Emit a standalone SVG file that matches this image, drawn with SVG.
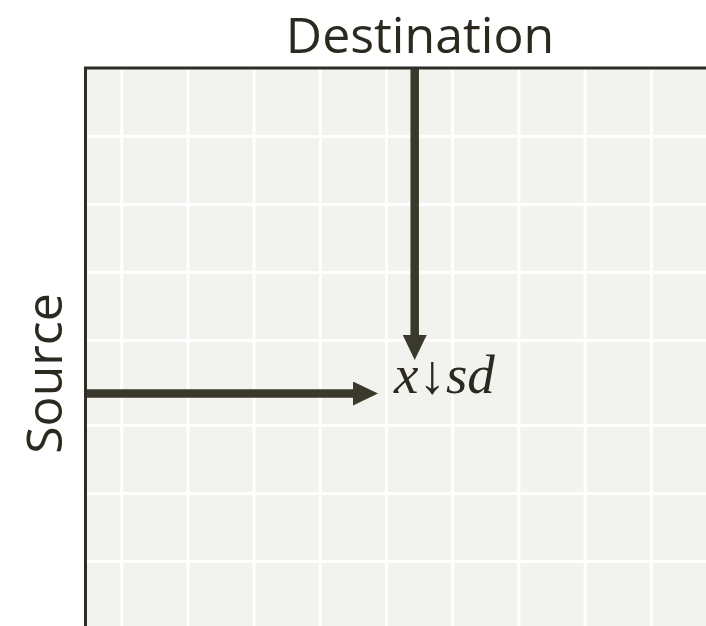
<svg xmlns="http://www.w3.org/2000/svg" width="706" height="626" viewBox="0 0 706 626">
  <style>
    .label { font-family: "Open Sans", "Noto Sans", "DejaVu Sans", sans-serif; font-size: 50px; fill: #2c2920; }
    .cell { font-family: "Liberation Serif", "DejaVu Serif", serif; font-style: italic; font-size: 55px; fill: #2c2920; }
    .grid line { stroke: #ffffff; stroke-width: 3; }
    .axis { stroke: #2f2c25; stroke-width: 3; fill: none; }
    .arrow { stroke: #3b382c; stroke-width: 8.5; fill: none; marker-end: url(#head); }
  </style>
  <defs>
    <marker id="head" markerUnits="userSpaceOnUse" markerWidth="25" markerHeight="24" refX="5" refY="12" orient="auto">
      <path d="M0,0 L25,12 L0,24 Z" fill="#3b382c"/>
    </marker>
  </defs>

  <rect width="706" height="626" fill="#ffffff"/>

  <!-- matrix area -->
  <g id="matrix">
    <rect x="85" y="68" width="621" height="558" fill="#f2f2ee"/>
    <g class="grid">
      <line x1="121.7" y1="68" x2="121.7" y2="626"/>
      <line x1="187.9" y1="68" x2="187.9" y2="626"/>
      <line x1="254.1" y1="68" x2="254.1" y2="626"/>
      <line x1="320.3" y1="68" x2="320.3" y2="626"/>
      <line x1="386.5" y1="68" x2="386.5" y2="626"/>
      <line x1="452.7" y1="68" x2="452.7" y2="626"/>
      <line x1="518.9" y1="68" x2="518.9" y2="626"/>
      <line x1="585.1" y1="68" x2="585.1" y2="626"/>
      <line x1="651.3" y1="68" x2="651.3" y2="626"/>
      <line x1="85" y1="136.5" x2="706" y2="136.5"/>
      <line x1="85" y1="204.5" x2="706" y2="204.5"/>
      <line x1="85" y1="272.5" x2="706" y2="272.5"/>
      <line x1="85" y1="340.5" x2="706" y2="340.5"/>
      <line x1="85" y1="425.5" x2="706" y2="425.5"/>
      <line x1="85" y1="493.5" x2="706" y2="493.5"/>
      <line x1="85" y1="561.5" x2="706" y2="561.5"/>
    </g>
    <path class="axis" d="M85.5,626 L85.5,68 L706,68"/>
  </g>

  <g id="destination-label">
    <text class="label" x="420" y="53" text-anchor="middle">Destination</text>
  </g>

  <g id="source-label">
    <text class="label" transform="translate(62,373.5) rotate(-90)" text-anchor="middle">Source</text>
  </g>

  <g id="cell-label">
    <text class="cell" x="394" y="393">x↓sd</text>
  </g>

  <g id="connectors">
    <line class="arrow" x1="414.7" y1="69" x2="414.7" y2="340"/>
    <line class="arrow" x1="87" y1="393.5" x2="358" y2="393.5"/>
  </g>
</svg>
